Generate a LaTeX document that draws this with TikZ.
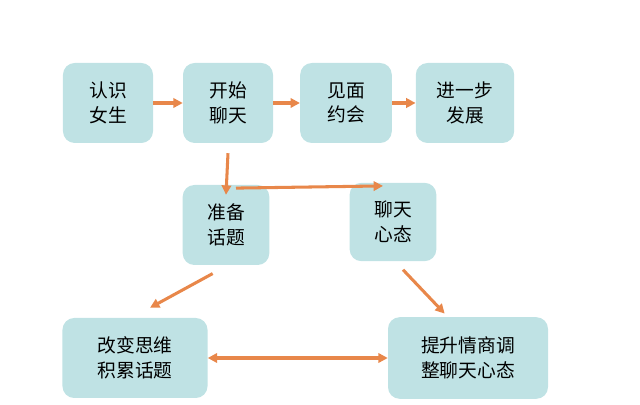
\documentclass[tikz,border=0pt]{standalone}
\usepackage{fontspec}
\setmainfont{Noto Sans CJK SC}
\usetikzlibrary{arrows.meta}
\definecolor{boxfill}{HTML}{BFE2E4}
\definecolor{arrowor}{HTML}{E8874A}
\tikzset{
  step box/.style={rounded corners=10pt, fill=boxfill, align=center,
    font=\fontsize{16}{21}\selectfont, inner sep=0pt},
  flow/.style={arrowor, line width=2.6pt, -{Triangle[length=8pt,width=8pt]}},
}
\begin{document}
\begin{tikzpicture}[x=0.03cm, y=-0.03cm]
\useasboundingbox (0,0) rectangle (640,405);
% Top row
\node[step box, minimum width=2.7cm, minimum height=2.4cm] (meet) at (108,103) {认识\\女生};
\node[step box, minimum width=2.7cm, minimum height=2.4cm] (chat) at (228,103) {开始\\聊天};
\node[step box, minimum width=2.75cm, minimum height=2.4cm] (date) at (346,103) {见面\\约会};
\node[step box, minimum width=2.95cm, minimum height=2.4cm] (next) at (465,103) {进一步\\发展};
% Middle row
\node[step box, minimum width=2.6cm, minimum height=2.4cm] (topic) at (226,225) {准备\\话题};
\node[step box, minimum width=2.6cm, minimum height=2.35cm] (mood) at (393,222) {聊天\\心态};
% Bottom row
\node[step box, minimum width=4.35cm, minimum height=2.4cm] (think) at (135,358) {改变思维\\积累话题};
\node[step box, minimum width=4.8cm, minimum height=2.45cm] (eq) at (468,358) {提升情商调\\整聊天心态};
% Connectors
\draw[flow] (meet) -- (chat);
\draw[flow] (chat) -- (date);
\draw[flow] (date) -- (next);
\draw[flow] ([yshift=-0.3cm]chat.south) -- ([yshift=-0.3cm]topic.north);
\draw[flow] ([xshift=0.3cm,yshift=-0.1cm]topic.north) -- ([xshift=-0.3cm,yshift=-0.1cm]mood.north);
\draw[flow] ([xshift=-0.4cm,yshift=-0.25cm]topic.south) -- ([xshift=0.45cm,yshift=0.3cm]think.north);
\draw[flow] ([xshift=0.3cm,yshift=-0.25cm]mood.south) -- ([xshift=-0.7cm,yshift=0.1cm]eq.north);
\draw[flow, {Triangle[length=8pt,width=8pt]}-{Triangle[length=8pt,width=8pt]}] (think) -- (eq);
\end{tikzpicture}
\end{document}
